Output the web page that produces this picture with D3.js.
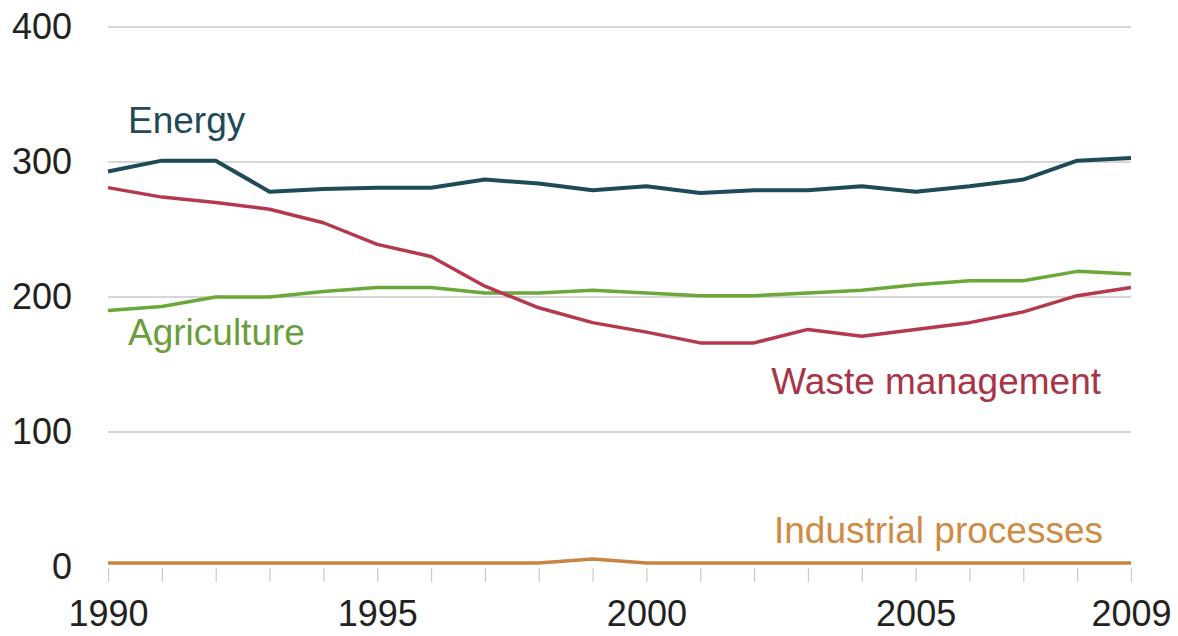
<!DOCTYPE html>
<html>
<head>
<meta charset="utf-8">
<script src="https://cdn.jsdelivr.net/npm/d3@7"></script>
<style>
  html, body { margin: 0; padding: 0; background: #ffffff; }
  svg { display: block; }
  text { font-family: "Liberation Sans", Arial, sans-serif; }
</style>
</head>
<body>
<svg id="chart" width="1178" height="636"></svg>
<script>
const years = [1990,1991,1992,1993,1994,1995,1996,1997,1998,1999,2000,2001,2002,2003,2004,2005,2006,2007,2008,2009];
const energy      = [293,301,301,278,280,281,281,287,284,279,282,277,279,279,282,278,282,287,301,303];
const waste       = [281,274,270,265,255,239,230,208,192,181,174,166,166,176,171,176,181,189,201,207];
const agriculture = [190,193,200,200,204,207,207,203,203,205,203,201,201,203,205,209,212,212,219,217];
const industrial  = [3,3,3,3,3,3,3,3,3,6,3,3,3,3,3,3,3,3,3,3];
const yTicks = [0,100,200,300,400];
const xTickLabels = [1990,1995,2000,2005,2009];

const series = [
  {name:"Energy", values: energy, color:"#1f4a58", lcolor:"#1f4a58"},
  {name:"Agriculture", values: agriculture, color:"#6aa83a", lcolor:"#6a9e3a"},
  {name:"Waste management", values: waste, color:"#b5384d", lcolor:"#a83448"},
  {name:"Industrial processes", values: industrial, color:"#c98441", lcolor:"#d08a44"}
];
// label placement (pixels)
const labelPos = {
  "Energy": {x:128, y:133, anchor:"start"},
  "Agriculture": {x:128, y:345, anchor:"start"},
  "Waste management": {x:1101, y:394, anchor:"end"},
  "Industrial processes": {x:1103, y:543, anchor:"end"}
};

const svg = d3.select("#chart");
const x = d3.scaleLinear().domain([1990, 2009]).range([108, 1131]);
const y = d3.scaleLinear().domain([0, 400]).range([567, 27]);

// gridlines
svg.append("g").selectAll("line").data(yTicks.filter(d => d > 0)).join("line")
  .attr("x1", x(1990)).attr("x2", x(2009))
  .attr("y1", d => y(d)).attr("y2", d => y(d))
  .attr("stroke", "#c8c8c8").attr("stroke-width", 1.5);

// y axis labels
const yAxis = d3.axisLeft(y).tickValues(yTicks).tickSize(0).tickPadding(0);
const gy = svg.append("g").attr("transform", "translate(72,0)").call(yAxis);
gy.select(".domain").remove();
gy.selectAll("text").attr("font-size", 36).attr("fill", "#222").attr("font-family", "Liberation Sans, Arial, sans-serif");

// x axis ticks
const xAxis = d3.axisBottom(x).tickValues(years).tickSize(14).tickFormat(d => xTickLabels.includes(d) ? d : "");
const gx = svg.append("g").attr("transform", `translate(0,${y(0)+1})`).call(xAxis);
gx.select(".domain").remove();
gx.selectAll("line").attr("stroke", "#c8c8c8").attr("stroke-width", 1.2);
gx.selectAll("text").attr("font-size", 36).attr("fill", "#222").attr("dy", "1.13em")
  .attr("font-family", "Liberation Sans, Arial, sans-serif");

// lines
const line = d3.line().x((d, i) => x(years[i])).y(d => y(d));
series.forEach(s => {
  svg.append("path").datum(s.values)
    .attr("fill", "none").attr("stroke", s.color)
    .attr("stroke-width", s.name === "Energy" ? 4 : 3.5)
    .attr("stroke-linejoin", "round")
    .attr("d", line);
});

// labels
series.forEach(s => {
  const p = labelPos[s.name];
  svg.append("text")
    .attr("x", p.x).attr("y", p.y)
    .attr("text-anchor", p.anchor)
    .attr("font-size", 37).attr("fill", s.lcolor)
    .text(s.name);
});
</script>
</body>
</html>
